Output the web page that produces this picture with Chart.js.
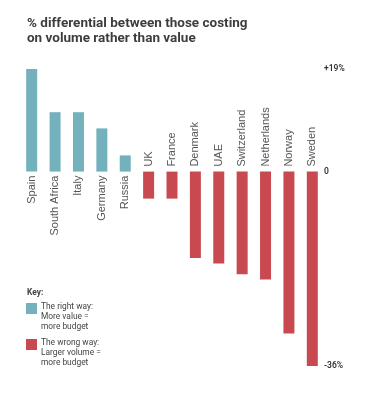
<!DOCTYPE html>
<html>
<head>
<meta charset="utf-8">
<script src="https://cdn.jsdelivr.net/npm/chart.js@4/dist/chart.umd.min.js"></script>
<style>
    html, body { margin: 0; padding: 0; background: #fff; }
    .wrap { position: relative; width: 385px; height: 400px; overflow: hidden; }
    canvas { position: absolute; left: 0; top: 0; }
    .title {
        position: absolute; left: 27px; top: 15px;
        font: 700 13.5px Roboto, sans-serif; line-height: 15px; color: #3d3d3d;
    }
    .key { position: absolute; left: 27px; top: 287px; font: 8.4px Roboto, sans-serif; color: #444; }
    .key .head { font-weight: 700; line-height: 10px; margin-bottom: 4px; }
    .key .item { position: relative; padding-left: 14px; line-height: 10px; margin-bottom: 6px; }
    .key .sw { position: absolute; left: -1px; top: 2px; width: 11px; height: 11px; }
</style>
</head>
<body>
<div class="wrap">
    <canvas id="chart" width="385" height="400"></canvas>
    <div class="title">% differential between those costing<br>on volume rather than value</div>
    <div class="key">
        <div class="head">Key:</div>
        <div class="item"><span class="sw" style="background:#73b1bc"></span>The right way:<br>More value =<br>more budget</div>
        <div class="item"><span class="sw" style="background:#c84a50"></span>The wrong way:<br>Larger volume =<br>more budget</div>
    </div>
</div>
<script>
    const countries = ['Spain', 'South Africa', 'Italy', 'Germany', 'Russia', 'UK', 'France',
        'Denmark', 'UAE', 'Switzerland', 'Netherlands', 'Norway', 'Sweden'];
    const differential = [19, 11, 11, 8, 3, -5, -5, -16, -17, -19, -20, -30, -36];
    const axisTicks = [-36, 0, 19];

    const RIGHT_WAY = '#73b1bc';
    const WRONG_WAY = '#c84a50';

    // country names sit on the zero line, rotated, on the other side of the bar
    const barLabels = {
        id: 'barLabels',
        afterDatasetsDraw(chart) {
            const { ctx, scales } = chart;
            const zero = scales.y.getPixelForValue(0);
            const bars = chart.getDatasetMeta(0).data;
            ctx.save();
            ctx.font = '11px "Liberation Sans", Arial, sans-serif';
            ctx.fillStyle = '#555';
            ctx.textBaseline = 'middle';
            bars.forEach((bar, i) => {
                const up = differential[i] >= 0;
                ctx.save();
                ctx.translate(bar.x, up ? zero + 4 : zero - 5);
                ctx.rotate(-Math.PI / 2);
                ctx.textAlign = up ? 'right' : 'left';
                ctx.fillText(countries[i], 0, 0);
                ctx.restore();
            });
            ctx.restore();
        }
    };

    new Chart(document.getElementById('chart'), {
        type: 'bar',
        data: {
            labels: countries,
            datasets: [{
                data: differential,
                backgroundColor: differential.map((v) => (v >= 0 ? RIGHT_WAY : WRONG_WAY)),
                borderWidth: 0,
                categoryPercentage: 1,
                barPercentage: 0.47
            }]
        },
        options: {
            responsive: false,
            animation: false,
            layout: { padding: { left: 20, right: 11, top: 69, bottom: 34 } },
            plugins: { legend: { display: false }, tooltip: { enabled: false } },
            scales: {
                x: { display: false },
                y: {
                    position: 'right',
                    min: -36,
                    max: 19,
                    grid: { display: false, drawTicks: false },
                    border: { display: false },
                    afterBuildTicks: (scale) => {
                        scale.ticks = axisTicks.map((v) => ({ value: v }));
                    },
                    afterFit: (scale) => {
                        scale.width = 50;
                    },
                    ticks: {
                        padding: 0,
                        color: '#333',
                        font: { family: 'Roboto, sans-serif', size: 8.5, weight: '600' },
                        callback: (v) => (v > 0 ? '+' + v + '%' : v < 0 ? v + '%' : '0')
                    }
                }
            }
        },
        plugins: [barLabels]
    });
</script>
</body>
</html>
